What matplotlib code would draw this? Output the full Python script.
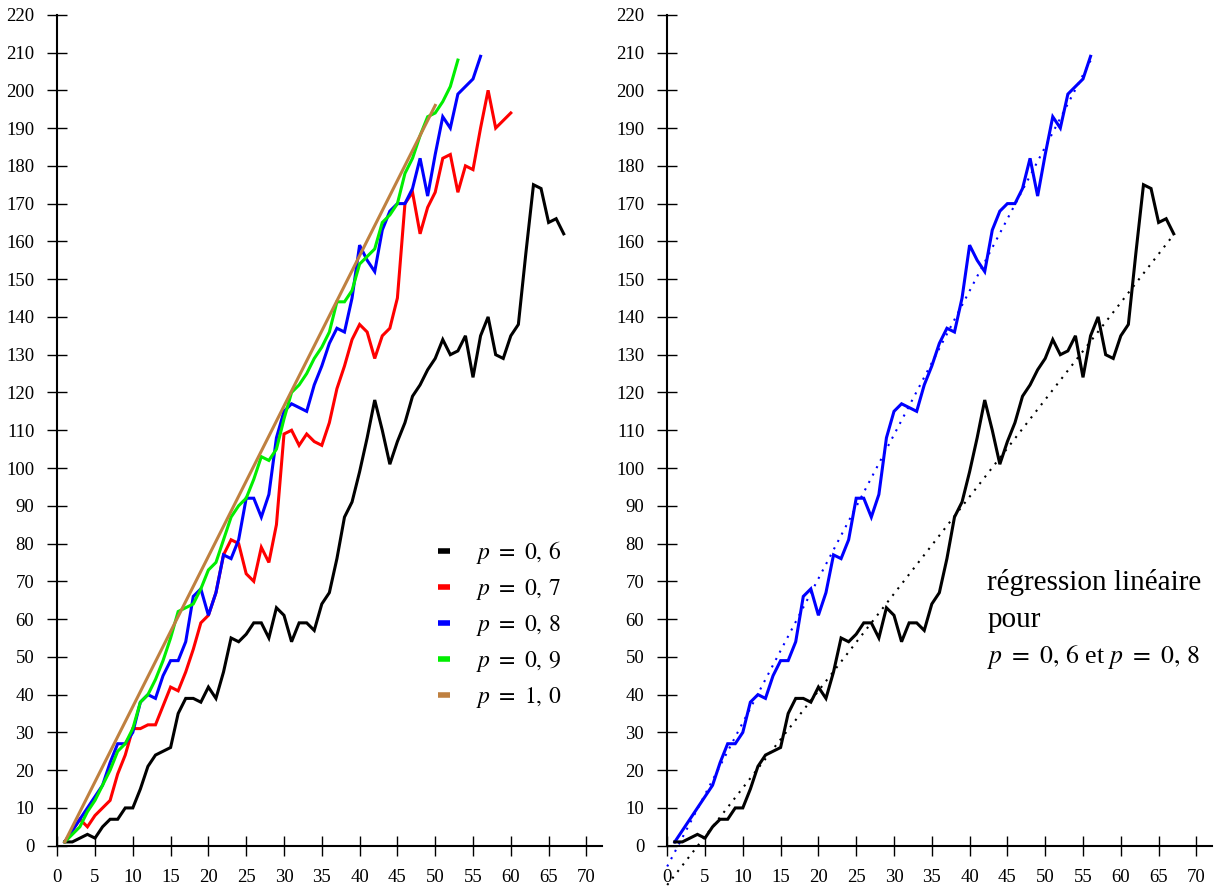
import numpy as np
import matplotlib
matplotlib.use("Agg")
import matplotlib.pyplot as plt
from matplotlib.lines import Line2D

plt.rcParams['font.family'] = ['Liberation Serif', 'DejaVu Serif']
plt.rcParams['mathtext.fontset'] = 'stix'

# ---------------- data ----------------
x06 = list(range(1, 68))
y06 = [1, 1, 2, 3, 2, 5, 7, 7, 10, 10, 15, 21, 24, 25, 26, 35, 39, 39, 38, 42,
       39, 46, 55, 54, 56, 59, 59, 55, 63, 61, 54, 59, 59, 57, 64, 67, 76, 87, 91, 99,
       108, 118, 110, 101, 107, 112, 119, 122, 126, 129, 134, 130, 131, 135, 124, 135, 140, 130, 129, 135,
       138, 157, 175, 174, 165, 166, 162]

x07 = list(range(1, 61))
y07 = [1, 4, 7, 5, 8, 10, 12, 19, 24, 31, 31, 32, 32, 37, 42, 41, 46, 52, 59, 61,
       67, 77, 81, 80, 72, 70, 79, 75, 85, 109, 110, 106, 109, 107, 106, 112, 121, 127, 134, 138,
       136, 129, 135, 137, 145, 170, 173, 162, 169, 173, 182, 183, 173, 180, 179, 190, 200, 190, 192, 194]

x08 = list(range(1, 57))
y08 = [1, 4, 7, 10, 13, 16, 22, 27, 27, 30, 38, 40, 39, 45, 49, 49, 54, 66, 68, 61,
       67, 77, 76, 81, 92, 92, 87, 93, 108, 115, 117, 116, 115, 122, 127, 133, 137, 136, 145, 159,
       155, 152, 163, 168, 170, 170, 174, 182, 172, 183, 193, 190, 199, 201, 203, 209]

x09 = list(range(1, 54))
y09 = [1, 3, 5, 9, 12, 16, 20, 25, 27, 31, 38, 40, 44, 49, 55, 62, 63, 64, 68, 73,
       75, 81, 87, 90, 92, 97, 103, 102, 105, 113, 120, 122, 125, 129, 132, 136, 144, 144, 147, 154,
       156, 158, 165, 167, 170, 178, 182, 188, 193, 194, 197, 201, 208]

x10 = [1, 50]
y10 = [1, 196]

# regression lines (slope, intercept)
reg06 = (2.57, -10.4)
reg08 = (3.81, -5.5)

series = [
    (x06, y06, 'black', r'$p\ =\ 0,\,6$'),
    (x07, y07, '#ff0000', r'$p\ =\ 0,\,7$'),
    (x08, y08, '#0000ff', r'$p\ =\ 0,\,8$'),
    (x09, y09, '#00ee00', r'$p\ =\ 0,\,9$'),
    (x10, y10, '#bf8040', r'$p\ =\ 1,\,0$'),
]

xticks = list(range(0, 75, 5))
yticks = list(range(0, 230, 10))

W, H = 1220, 886
fig = plt.figure(figsize=(W / 100, H / 100), dpi=100)

XLIM = (-57.2 / 7.56, (610 - 57.2) / 7.56)
YLIM = ((845.7 - 886) / 3.777, 845.7 / 3.777)


def style_axes(ax):
    ax.set_xlim(*XLIM)
    ax.set_ylim(*YLIM)
    for s in ['top', 'right']:
        ax.spines[s].set_visible(False)
    ax.spines['left'].set_position(('data', 0))
    ax.spines['bottom'].set_position(('data', 0))
    ax.spines['left'].set_bounds(0, 220)
    ax.spines['bottom'].set_bounds(0, 72)
    for s in ['left', 'bottom']:
        ax.spines[s].set_linewidth(1.5)
    ax.set_xticks(xticks)
    ax.set_yticks(yticks)
    ax.tick_params(axis='both', direction='inout', length=15, width=1.0,
                   labelsize=13.5)
    ax.tick_params(axis='x', pad=9)
    ax.tick_params(axis='y', pad=9)
    ax.patch.set_alpha(0)


axL = fig.add_axes([0, 0, 0.5, 1])
style_axes(axL)
for xs, ys, c, lab in series:
    axL.plot(xs, ys, color=c, lw=2.2, solid_joinstyle='miter')

handles = [Line2D([0], [0], color=c, lw=4, solid_capstyle='butt') for _, _, c, _ in series]
labels = [lab for _, _, _, lab in series]
axL.legend(handles, labels, loc='upper left', bbox_to_anchor=(438 / 610, 1 - 539 / 886),
           frameon=False, fontsize=17, handlelength=0.5, handletextpad=1.1,
           labelspacing=0.47, borderpad=0, borderaxespad=0)

axR = fig.add_axes([0.5, 0, 0.5, 1])
style_axes(axR)
for xs, ys, c, (a, b) in [(x08, y08, '#0000ff', reg08), (x06, y06, 'black', reg06)]:
    axR.plot(xs, ys, color=c, lw=2.2, solid_joinstyle='miter')
    xr = np.array([0, xs[-1]])
    axR.plot(xr, a * xr + b, color=c, lw=1.5, linestyle=(0, (1, 3)), clip_on=False)

tx = (988 - 610 - 57) / 7.58
axR.text(tx, (845.7 - 582) / 3.777, 'régression linéaire', fontsize=21, va='center', ha='left')
axR.text(tx, (845.7 - 620) / 3.777, 'pour', fontsize=21, va='center', ha='left')
axR.text(tx, (845.7 - 657) / 3.777, r'$p\ =\ 0,\,6$ et $p\ =\ 0,\,8$', fontsize=18.5,
         va='center', ha='left')

fig.savefig('out.png', dpi=100)
